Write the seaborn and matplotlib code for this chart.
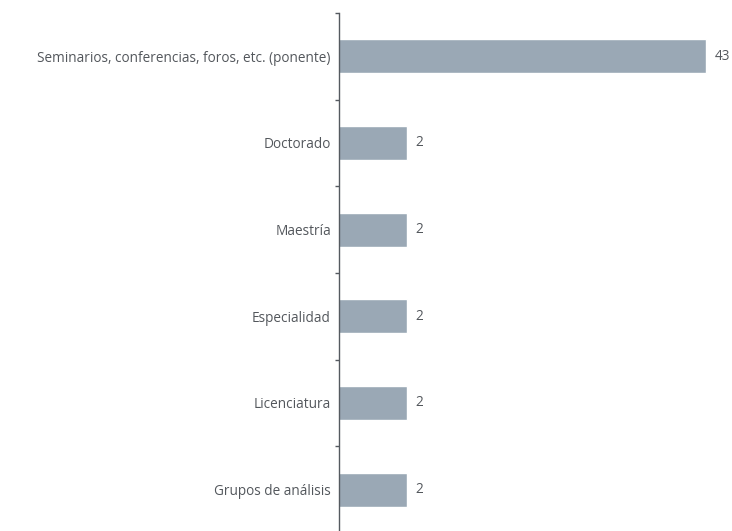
import matplotlib
matplotlib.use("Agg")
import matplotlib.pyplot as plt
import seaborn as sns
from matplotlib.ticker import FixedLocator

categories = [
    "Seminarios, conferencias, foros, etc. (ponente)",
    "Doctorado",
    "Maestría",
    "Especialidad",
    "Licenciatura",
    "Grupos de análisis",
]
values = [43, 2, 2, 2, 2, 2]

bar_color = "#9AA8B5"
text_color = "#53575C"

sns.set_style("white")
plt.rcParams["font.family"] = ["Open Sans", "DejaVu Sans"]

fig = plt.figure(figsize=(7.32, 5.31), dpi=100)
ax = fig.add_axes([339.3 / 732, -2 / 531, 1 - 339.3 / 732, 520 / 531])

sns.barplot(x=values, y=categories, orient="h", color=bar_color,
            width=0.39, saturation=1, ax=ax)
ax.set_xscale("log")
ax.set_xlim(1, 56)
ax.set_ylim(len(categories) - 0.5, -0.5)

# value labels beside each bar
for i, v in enumerate(values):
    ax.annotate(str(v), xy=(v, i), xytext=(6, 0), textcoords="offset points",
                va="center", ha="left", fontsize=9.8, color=text_color)

sns.despine(ax=ax, top=True, right=True, bottom=True, left=False)
ax.spines["left"].set_color("#555a60")
ax.spines["left"].set_linewidth(1.0)
ax.xaxis.set_visible(False)
ax.set_xlabel("")
ax.set_ylabel("")

ax.tick_params(axis="y", which="major", left=False, length=0, pad=6,
               labelsize=9.85, labelcolor=text_color)
ax.yaxis.set_minor_locator(FixedLocator([i - 0.5 for i in range(len(categories) + 1)]))
ax.tick_params(axis="y", which="minor", left=True, length=3, width=1,
               color="#555a60", direction="out")

fig.savefig("out.png", dpi=100)
